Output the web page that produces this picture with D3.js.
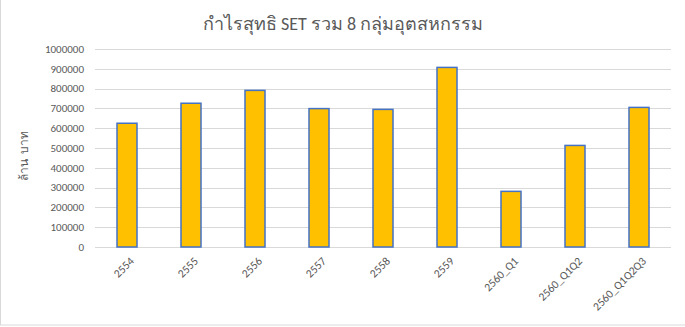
<!DOCTYPE html>
<html>
<head>
<meta charset="utf-8">
<script src="https://cdn.jsdelivr.net/npm/d3@7"></script>
<style>
  body { margin: 0; background: #fff; }
  svg text { font-family: Calibri, "Noto Sans", "DejaVu Sans", sans-serif; fill: #595959; }
</style>
</head>
<body>
<div id="chart"></div>
<script>
const categories = ['2554', '2555', '2556', '2557', '2558', '2559', '2560_Q1', '2560_Q1Q2', '2560_Q1Q2Q3'];
const profits = [625000, 726000, 791000, 699000, 695000, 907000, 281000, 513000, 705000];
const yTicks = [0, 100000, 200000, 300000, 400000, 500000, 600000, 700000, 800000, 900000, 1000000];
const chartTitle = 'กำไรสุทธิ SET รวม 8 กลุ่มอุตสหกรรม';
const yTitle = 'ล้าน บาท';

const width = 685;
const height = 327;
const margin = { top: 49, right: 14, bottom: 80, left: 95 };

const svg = d3.select('#chart').append('svg')
  .attr('width', width)
  .attr('height', height);

// chart border (left / bottom visible in the picture)
svg.append('rect')
  .attr('x', 0.5).attr('y', -5)
  .attr('width', width + 5).attr('height', height - 1.5 + 5 - 0.5)
  .attr('fill', 'none')
  .attr('stroke', '#d9d9d9');

const x = d3.scaleBand()
  .domain(categories)
  .range([margin.left, width - margin.right])
  .paddingInner(0.6875)
  .paddingOuter(0.34375);

const y = d3.scaleLinear()
  .domain([0, 1000000])
  .range([height - margin.bottom, margin.top]);

// gridlines
svg.append('g')
  .selectAll('line')
  .data(yTicks)
  .enter().append('line')
    .attr('x1', margin.left)
    .attr('x2', width - margin.right)
    .attr('y1', (d) => Math.round(y(d)) + 0.5)
    .attr('y2', (d) => Math.round(y(d)) + 0.5)
    .attr('stroke', '#d9d9d9')
    .attr('stroke-width', 1);

// y tick labels
svg.append('g')
  .selectAll('text')
  .data(yTicks)
  .enter().append('text')
    .attr('x', margin.left - 11)
    .attr('y', (d) => y(d))
    .attr('dy', '0.35em')
    .attr('text-anchor', 'end')
    .style('font-size', '11px')
    .text((d) => d);

// bars
svg.append('g')
  .selectAll('rect')
  .data(profits)
  .enter().append('rect')
    .attr('x', (d, i) => x(categories[i]))
    .attr('y', (d) => y(d))
    .attr('width', x.bandwidth())
    .attr('height', (d) => y(0) - y(d))
    .attr('fill', '#ffc000')
    .attr('stroke', '#4472c4')
    .attr('stroke-width', 1.5);

// x labels, rotated
svg.append('g')
  .selectAll('text')
  .data(categories)
  .enter().append('text')
    .attr('transform', (d) => `translate(${x(d) + x.bandwidth() / 2 + 5},${y(0) + 12}) rotate(-45)`)
    .attr('text-anchor', 'end')
    .attr('dy', '0.35em')
    .style('font-size', '11.5px')
    .text((d) => d);

// title
svg.append('text')
  .attr('x', 343)
  .attr('y', 30)
  .attr('text-anchor', 'middle')
  .style('font-size', '18px')
  .text(chartTitle);

// y axis title
svg.append('text')
  .attr('transform', `translate(28,${(margin.top + height - margin.bottom) / 2 + 8}) rotate(-90)`)
  .attr('text-anchor', 'middle')
  .style('font-size', '12px')
  .style('word-spacing', '2px')
  .text(yTitle);
</script>
</body>
</html>
